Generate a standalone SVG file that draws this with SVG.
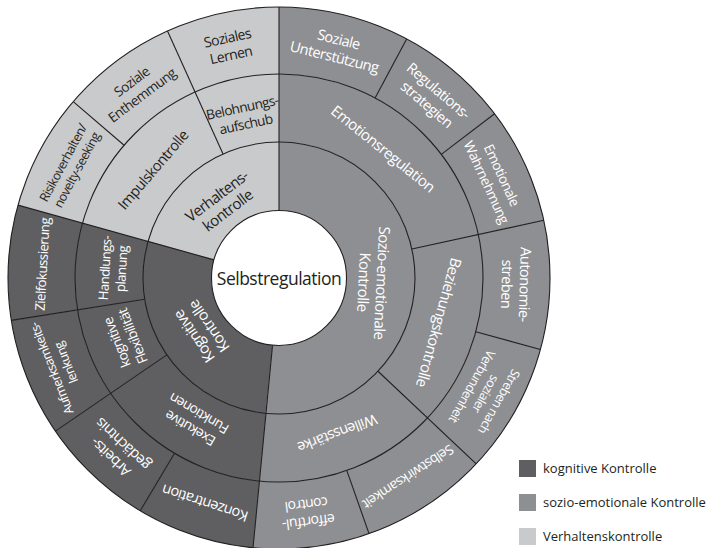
<svg xmlns="http://www.w3.org/2000/svg" width="708" height="548" viewBox="0 0 708 548">
  <style>
    .seg { fill: none; }
    .r1 { stroke-width: 68.5; }
    .r2 { stroke-width: 68; }
    .r3 { stroke-width: 67; }
    .dark { stroke: #5f5f62; }
    .mid { stroke: #8e8f92; }
    .light { stroke: #c9cacc; }
    .edge { fill: none; stroke: #231f20; stroke-width: 1.1; }
    text { font-family: "Open Sans", "Noto Sans", sans-serif; text-anchor: middle; letter-spacing: -0.55px; }
    .w { fill: #ffffff; }
    .k { fill: #231f20; }
    .center { font-size: 17.5px; letter-spacing: -0.5px; fill: #231f20; }
    .legend text { text-anchor: start; font-size: 13px; letter-spacing: 0; fill: #231f20; }
  </style>

  <!-- ring 1 (r 67.5..136, mid 101.75, 1.77586 px/deg) -->
  <g id="verhaltenskontrolle">
    <circle class="seg r1 light" cx="279" cy="278" r="101.75" stroke-dasharray="132.12 700" transform="rotate(195.6 279 278)"/>
    <g transform="rotate(322.8 279 278)" font-size="15.1"><text class="k" x="279" y="180.4">Verhaltens-</text><text class="k" x="279" y="198.4">kontrolle</text></g>
  </g>
  <g id="kognitive-kontrolle">
    <circle class="seg r1 dark" cx="279" cy="278" r="101.75" stroke-dasharray="177.76 700" transform="rotate(95.5 279 278)"/>
    <g transform="rotate(235.5 279 278)" font-size="15.1"><text class="w" x="279" y="180.4">Kognitive</text><text class="w" x="279" y="198.4">Kontrolle</text></g>
  </g>
  <g id="sozio-emotionale-kontrolle">
    <circle class="seg r1 mid" cx="279" cy="278" r="101.75" stroke-dasharray="329.42 700" transform="rotate(-90 279 278)"/>
    <g transform="rotate(92.75 279 278)" font-size="15.1"><text class="w" x="279" y="180.4">Sozio-emotionale</text><text class="w" x="279" y="198.4">Kontrolle</text></g>
  </g>

  <!-- ring 2 (r 136..204, mid 170, 2.96706 px/deg) -->
  <g id="impulskontrolle">
    <circle class="seg r2 light" cx="279" cy="278" r="170" stroke-dasharray="148.65 1100" transform="rotate(195.6 279 278)"/>
    <g transform="rotate(310.65 279 278)" font-size="14.6"><text class="k" x="279" y="117.2">Impulskontrolle</text></g>
  </g>
  <g id="belohnungsaufschub">
    <circle class="seg r2 light" cx="279" cy="278" r="170" stroke-dasharray="72.10 1100" transform="rotate(245.7 279 278)"/>
    <g transform="rotate(347.85 279 278)" font-size="13.6"><text class="k" x="279" y="108.4">Belohnungs-</text><text class="k" x="279" y="125.4">aufschub</text></g>
  </g>
  <g id="emotionsregulation">
    <circle class="seg r2 mid" cx="279" cy="278" r="170" stroke-dasharray="230.54 1100" transform="rotate(-90 279 278)"/>
    <g transform="rotate(38.85 279 278)" font-size="15.1"><text class="w" x="279" y="117.4">Emotionsregulation</text></g>
  </g>
  <g id="beziehungskontrolle">
    <circle class="seg r2 mid" cx="279" cy="278" r="170" stroke-dasharray="164.97 1100" transform="rotate(-12.3 279 278)"/>
    <g transform="rotate(105.5 279 278)" font-size="15.1"><text class="w" x="279" y="117.4">Beziehungskontrolle</text></g>
  </g>
  <g id="willensstaerke">
    <circle class="seg r2 mid" cx="279" cy="278" r="170" stroke-dasharray="154.88 1100" transform="rotate(43.3 279 278)"/>
    <g transform="rotate(159.4 279 278)" font-size="14.6"><text class="w" x="279" y="117.2">Willensstärke</text></g>
  </g>
  <g id="exekutive-funktionen">
    <circle class="seg r2 dark" cx="279" cy="278" r="170" stroke-dasharray="148.65 1100" transform="rotate(95.5 279 278)"/>
    <g transform="rotate(210.55 279 278)" font-size="13.6"><text class="w" x="279" y="108.4">Exekutive</text><text class="w" x="279" y="125.4">Funktionen</text></g>
  </g>
  <g id="kognitive-flexibilitaet">
    <circle class="seg r2 dark" cx="279" cy="278" r="170" stroke-dasharray="75.36 1100" transform="rotate(145.6 279 278)"/>
    <g transform="rotate(248.3 279 278)" font-size="13.6"><text class="w" x="279" y="108.4">kognitive</text><text class="w" x="279" y="125.4">Flexibilität</text></g>
  </g>
  <g id="handlungsplanung">
    <circle class="seg r2 dark" cx="279" cy="278" r="170" stroke-dasharray="72.99 1100" transform="rotate(171 279 278)"/>
    <g transform="rotate(273.3 279 278)" font-size="13.1"><text class="w" x="279" y="108.45">Handlungs-</text><text class="w" x="279" y="124.95">planung</text></g>
  </g>

  <!-- ring 3 (r 204..271, mid 237.5, 4.14517 px/deg) -->
  <g id="risikoverhalten">
    <circle class="seg r3 light" cx="279" cy="278" r="237.5" stroke-dasharray="103.63 1500" transform="rotate(195.6 279 278)"/>
    <g transform="rotate(298.1 279 278)" font-size="12.6"><text class="k" x="279" y="37.75">Risikoverhalten/</text><text class="k" x="279" y="53.25">novelty-seeking</text></g>
  </g>
  <g id="soziale-enthemmung">
    <circle class="seg r3 light" cx="279" cy="278" r="237.5" stroke-dasharray="104.04 1500" transform="rotate(220.6 279 278)"/>
    <g transform="rotate(323.15 279 278)" font-size="13.6"><text class="k" x="279" y="37.4">Soziale</text><text class="k" x="279" y="54.4">Enthemmung</text></g>
  </g>
  <g id="soziales-lernen">
    <circle class="seg r3 light" cx="279" cy="278" r="237.5" stroke-dasharray="100.73 1500" transform="rotate(245.7 279 278)"/>
    <g transform="rotate(347.85 279 278)" font-size="14.1"><text class="k" x="279" y="37.35">Soziales</text><text class="k" x="279" y="54.85">Lernen</text></g>
  </g>
  <g id="soziale-unterstuetzung">
    <circle class="seg r3 mid" cx="279" cy="278" r="237.5" stroke-dasharray="116.48 1500" transform="rotate(-90 279 278)"/>
    <g transform="rotate(14.05 279 278)" font-size="14.6"><text class="w" x="279" y="37.2">Soziale</text><text class="w" x="279" y="55.2">Unterstützung</text></g>
  </g>
  <g id="regulationsstrategien">
    <circle class="seg r3 mid" cx="279" cy="278" r="237.5" stroke-dasharray="101.97 1500" transform="rotate(-61.9 279 278)"/>
    <g transform="rotate(40.4 279 278)" font-size="14.6"><text class="w" x="279" y="37.2">Regulations-</text><text class="w" x="279" y="55.2">strategien</text></g>
  </g>
  <g id="emotionale-wahrnehmung">
    <circle class="seg r3 mid" cx="279" cy="278" r="237.5" stroke-dasharray="103.63 1500" transform="rotate(-37.3 279 278)"/>
    <g transform="rotate(65.2 279 278)" font-size="13.6"><text class="w" x="279" y="37.4">Emotionale</text><text class="w" x="279" y="54.4">Wahrnehmung</text></g>
  </g>
  <g id="autonomiestreben">
    <circle class="seg r3 mid" cx="279" cy="278" r="237.5" stroke-dasharray="114.41 1500" transform="rotate(-12.3 279 278)"/>
    <g transform="rotate(91.5 279 278)" font-size="14.6"><text class="w" x="279" y="37.2">Autonomie-</text><text class="w" x="279" y="55.2">streben</text></g>
  </g>
  <g id="soziale-verbundenheit">
    <circle class="seg r3 mid" cx="279" cy="278" r="237.5" stroke-dasharray="116.06 1500" transform="rotate(15.3 279 278)"/>
    <g transform="rotate(119.3 279 278)" font-size="12.6"><text class="w" x="279" y="30">Streben nach</text><text class="w" x="279" y="45.5">sozialer</text><text class="w" x="279" y="61">Verbundenheit</text></g>
  </g>
  <g id="selbstwirksamkeit">
    <circle class="seg r3 mid" cx="279" cy="278" r="237.5" stroke-dasharray="113.16 1500" transform="rotate(43.3 279 278)"/>
    <g transform="rotate(146.95 279 278)" font-size="13.6"><text class="w" x="279" y="45.9">Selbstwirksamkeit</text></g>
  </g>
  <g id="effortful-control">
    <circle class="seg r3 mid" cx="279" cy="278" r="237.5" stroke-dasharray="103.21 1500" transform="rotate(70.6 279 278)"/>
    <g transform="rotate(173.05 279 278)" font-size="14.1"><text class="w" x="279" y="37.35">effortful-</text><text class="w" x="279" y="54.85">control</text></g>
  </g>
  <g id="konzentration">
    <circle class="seg r3 dark" cx="279" cy="278" r="237.5" stroke-dasharray="104.87 1500" transform="rotate(95.5 279 278)"/>
    <g transform="rotate(198.15 279 278)" font-size="14.6"><text class="w" x="279" y="46.2">Konzentration</text></g>
  </g>
  <g id="arbeitsgedaechtnis">
    <circle class="seg r3 dark" cx="279" cy="278" r="237.5" stroke-dasharray="102.80 1500" transform="rotate(120.8 279 278)"/>
    <g transform="rotate(223.2 279 278)" font-size="14.6"><text class="w" x="279" y="37.2">Arbeits-</text><text class="w" x="279" y="55.2">gedächtnis</text></g>
  </g>
  <g id="aufmerksamkeitslenkung">
    <circle class="seg r3 dark" cx="279" cy="278" r="237.5" stroke-dasharray="105.29 1500" transform="rotate(145.6 279 278)"/>
    <g transform="rotate(248.3 279 278)" font-size="12.6"><text class="w" x="279" y="37.75">Aufmerksamkeits-</text><text class="w" x="279" y="53.25">lenkung</text></g>
  </g>
  <g id="zielfokussierung">
    <circle class="seg r3 dark" cx="279" cy="278" r="237.5" stroke-dasharray="101.97 1500" transform="rotate(171 279 278)"/>
    <g transform="rotate(273.3 279 278)" font-size="13.3"><text class="w" x="279" y="45.8">Zielfokussierung</text></g>
  </g>

  <!-- ring outlines and radial dividers -->
  <g id="outlines">
    <circle class="edge" cx="279" cy="278" r="271"/>
    <circle class="edge" cx="279" cy="278" r="204"/>
    <circle class="edge" cx="279" cy="278" r="136"/>
    <g class="edge">
      <line x1="279" y1="210.5" x2="279" y2="7"/>
      <line x1="279" y1="210.5" x2="279" y2="7" transform="rotate(185.5 279 278)"/>
      <line x1="279" y1="210.5" x2="279" y2="7" transform="rotate(285.6 279 278)"/>
      <line x1="279" y1="142" x2="279" y2="7" transform="rotate(335.7 279 278)"/>
      <line x1="279" y1="142" x2="279" y2="7" transform="rotate(77.7 279 278)"/>
      <line x1="279" y1="142" x2="279" y2="7" transform="rotate(133.3 279 278)"/>
      <line x1="279" y1="142" x2="279" y2="7" transform="rotate(235.6 279 278)"/>
      <line x1="279" y1="142" x2="279" y2="7" transform="rotate(261 279 278)"/>
      <line x1="279" y1="74" x2="279" y2="7" transform="rotate(310.6 279 278)"/>
      <line x1="279" y1="74" x2="279" y2="7" transform="rotate(28.1 279 278)"/>
      <line x1="279" y1="74" x2="279" y2="7" transform="rotate(52.7 279 278)"/>
      <line x1="279" y1="74" x2="279" y2="7" transform="rotate(105.3 279 278)"/>
      <line x1="279" y1="74" x2="279" y2="7" transform="rotate(160.6 279 278)"/>
      <line x1="279" y1="74" x2="279" y2="7" transform="rotate(210.8 279 278)"/>
    </g>
  </g>

  <g id="selbstregulation">
    <circle cx="279" cy="278" r="67.5" fill="#ffffff" stroke="#231f20" stroke-width="1.1"/>
    <text class="center" x="279" y="285">Selbstregulation</text>
  </g>

  <g id="legend" class="legend">
    <rect x="519" y="460" width="17" height="17" fill="#5f5f62"/>
    <text x="543" y="473">kognitive Kontrolle</text>
    <rect x="519" y="494" width="17" height="17" fill="#8e8f92"/>
    <text x="543" y="507">sozio-emotionale Kontrolle</text>
    <rect x="519" y="528" width="17" height="17" fill="#c9cacc"/>
    <text x="543" y="541">Verhaltenskontrolle</text>
  </g>
</svg>
